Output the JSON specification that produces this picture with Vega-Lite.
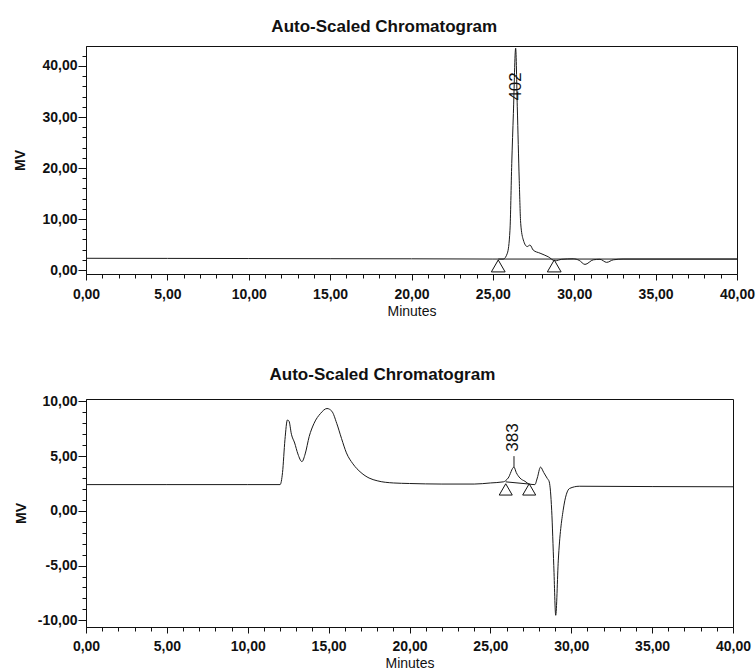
{
  "$schema": "https://vega.github.io/schema/vega-lite/v6.json",
  "padding": {"left": 13, "top": 17, "right": 0, "bottom": 0},
  "spacing": 46,
  "config": {
    "font": "Liberation Sans",
    "view": {"stroke": "#111", "strokeWidth": 1},
    "axis": {"grid": false, "labelOverlap": false, "tickCount": 200, "domainColor": "#111", "tickColor": "#111", "labelColor": "#111", "titleColor": "#111", "labelFont": "Liberation Sans", "titleFont": "Liberation Sans"},
    "title": {"font": "Liberation Sans", "fontSize": 17, "fontWeight": "bold", "color": "#111", "frame": "bounds", "anchor": "middle", "offset": 10}
  },
  "datasets": {
    "topTrace": [
      {"t": 0, "mv": 2.3}, {"t": 5, "mv": 2.28}, {"t": 10, "mv": 2.25}, {"t": 15, "mv": 2.22}, {"t": 20, "mv": 2.2},
      {"t": 25, "mv": 2.15}, {"t": 25.64, "mv": 2.15}, {"t": 25.89, "mv": 3.3}, {"t": 26.05, "mv": 7.8},
      {"t": 26.16, "mv": 20.9}, {"t": 26.26, "mv": 30.7}, {"t": 26.4, "mv": 43.5}, {"t": 26.5, "mv": 32},
      {"t": 26.62, "mv": 17.6}, {"t": 26.71, "mv": 9.15}, {"t": 26.87, "mv": 5.9}, {"t": 27.11, "mv": 4.6},
      {"t": 27.28, "mv": 4.9}, {"t": 27.48, "mv": 3.9}, {"t": 27.9, "mv": 3.3}, {"t": 28.4, "mv": 2.6},
      {"t": 28.82, "mv": 1.8}, {"t": 29.23, "mv": 2.1}, {"t": 29.94, "mv": 2.2}, {"t": 30.3, "mv": 1.9},
      {"t": 30.66, "mv": 1.1}, {"t": 31.17, "mv": 2.0}, {"t": 31.58, "mv": 2.1}, {"t": 31.99, "mv": 1.5},
      {"t": 32.4, "mv": 2.0}, {"t": 33.0, "mv": 2.15}, {"t": 40, "mv": 2.15}
    ],
    "topBase": [{"t": 25.33, "mv": 2.15}, {"t": 40, "mv": 2.15}],
    "topMarks": [{"t": 25.33, "mv": 0.8}, {"t": 28.77, "mv": 0.8}],
    "topLabel": [{"t": 26.45, "mv": 36.0, "label": "402"}],
    "botTrace": [
      {"t": 0, "mv": 2.4}, {"t": 5, "mv": 2.4}, {"t": 10, "mv": 2.4}, {"t": 12.0, "mv": 2.4},
      {"t": 12.15, "mv": 3.5}, {"t": 12.3, "mv": 6.5}, {"t": 12.45, "mv": 8.3}, {"t": 12.55, "mv": 8.2},
      {"t": 12.7, "mv": 7.0}, {"t": 12.9, "mv": 6.2}, {"t": 13.1, "mv": 5.2}, {"t": 13.35, "mv": 4.5},
      {"t": 13.55, "mv": 5.2}, {"t": 13.8, "mv": 6.8}, {"t": 14.1, "mv": 8.0}, {"t": 14.5, "mv": 8.9},
      {"t": 14.9, "mv": 9.35}, {"t": 15.2, "mv": 9.1}, {"t": 15.5, "mv": 8.0}, {"t": 15.8, "mv": 6.6},
      {"t": 16.1, "mv": 5.3}, {"t": 16.5, "mv": 4.3}, {"t": 17.0, "mv": 3.5}, {"t": 17.5, "mv": 3.0},
      {"t": 18.0, "mv": 2.75}, {"t": 19.0, "mv": 2.55}, {"t": 20.0, "mv": 2.5}, {"t": 22.0, "mv": 2.45},
      {"t": 24.0, "mv": 2.45}, {"t": 25.0, "mv": 2.55}, {"t": 25.8, "mv": 2.65}, {"t": 26.1, "mv": 3.0},
      {"t": 26.46, "mv": 4.0}, {"t": 26.6, "mv": 3.5}, {"t": 26.83, "mv": 3.0}, {"t": 27.14, "mv": 2.7},
      {"t": 27.4, "mv": 2.45}, {"t": 27.75, "mv": 2.4}, {"t": 27.9, "mv": 3.0}, {"t": 28.1, "mv": 4.0},
      {"t": 28.3, "mv": 3.5}, {"t": 28.52, "mv": 2.96}, {"t": 28.64, "mv": 2.65}, {"t": 28.79, "mv": 0.06},
      {"t": 28.92, "mv": -5.0}, {"t": 29.04, "mv": -9.54}, {"t": 29.2, "mv": -4.5}, {"t": 29.5, "mv": 0.06},
      {"t": 29.9, "mv": 2.05}, {"t": 30.5, "mv": 2.25}, {"t": 35, "mv": 2.22}, {"t": 40, "mv": 2.2}
    ],
    "botBase": [{"t": 25.95, "mv": 2.65}, {"t": 27.4, "mv": 2.45}],
    "botMarks": [{"t": 25.95, "mv": 1.96}, {"t": 27.4, "mv": 1.96}],
    "botLabel": [{"t": 26.42, "mv": 6.7, "label": "383"}],
    "botRule": [{"t": 26.46, "lo": 4.0, "hi": 5.0}]
  },
  "vconcat": [
    {
      "title": "Auto-Scaled Chromatogram",
      "width": 651,
      "height": 228,
      "layer": [
        {
          "data": {"name": "topTrace"},
          "mark": {"type": "line", "color": "#1a1a1a", "strokeWidth": 1, "interpolate": "monotone"},
          "encoding": {
            "x": {"field": "t", "type": "quantitative", "scale": {"domain": [0, 40], "nice": false, "zero": false},
              "axis": {"title": "Minutes", "titleFontSize": 14, "titleFontWeight": "normal", "titlePadding": 3, "tickCount": 200,
                "values": [0,1,2,3,4,5,6,7,8,9,10,11,12,13,14,15,16,17,18,19,20,21,22,23,24,25,26,27,28,29,30,31,32,33,34,35,36,37,38,39,40],
                "labelExpr": "datum.value % 5 === 0 ? replace(format(datum.value, '.2f'), '.', ',') : ''",
                "labelFlush": false, "labelOverlap": false, "labelFontSize": 14, "labelFontWeight": "bold", "labelPadding": 7,
                "tickSize": {"condition": {"test": "datum.value % 5 === 0", "value": 6}, "value": 4}}},
            "y": {"field": "mv", "type": "quantitative", "scale": {"domain": [-0.78, 43.92], "nice": false, "zero": false},
              "axis": {"title": "MV", "titleFontSize": 14, "titleFontWeight": "bold", "titlePadding": 14, "tickCount": 200,
                "values": [0,2,4,6,8,10,12,14,16,18,20,22,24,26,28,30,32,34,36,38,40,42],
                "labelExpr": "datum.value % 10 === 0 ? replace(format(datum.value, '.2f'), '.', ',') : ''",
                "labelOverlap": false, "labelFontSize": 14, "labelFontWeight": "bold", "labelPadding": 1,
                "tickSize": {"condition": {"test": "datum.value % 10 === 0", "value": 8}, "value": 4}}}
          }
        },
        {
          "data": {"name": "topBase"},
          "mark": {"type": "line", "color": "#1a1a1a", "strokeWidth": 1},
          "encoding": {"x": {"field": "t", "type": "quantitative"}, "y": {"field": "mv", "type": "quantitative"}}
        },
        {
          "data": {"name": "topMarks"},
          "mark": {"type": "point", "shape": "triangle-up", "filled": true, "fill": "white", "stroke": "#111", "strokeWidth": 1, "size": 190, "opacity": 1},
          "encoding": {"x": {"field": "t", "type": "quantitative"}, "y": {"field": "mv", "type": "quantitative"}}
        },
        {
          "data": {"name": "topLabel"},
          "mark": {"type": "text", "angle": 270, "fontSize": 17, "align": "center", "baseline": "middle", "color": "#111", "font": "Liberation Sans"},
          "encoding": {"x": {"field": "t", "type": "quantitative"}, "y": {"field": "mv", "type": "quantitative"}, "text": {"field": "label"}}
        }
      ]
    },
    {
      "title": "Auto-Scaled Chromatogram",
      "width": 647,
      "height": 228,
      "layer": [
        {
          "data": {"name": "botTrace"},
          "mark": {"type": "line", "color": "#1a1a1a", "strokeWidth": 1, "interpolate": "monotone"},
          "encoding": {
            "x": {"field": "t", "type": "quantitative", "scale": {"domain": [0, 40], "nice": false, "zero": false},
              "axis": {"title": "Minutes", "titleFontSize": 14, "titleFontWeight": "normal", "titlePadding": 3, "tickCount": 200,
                "values": [0,1,2,3,4,5,6,7,8,9,10,11,12,13,14,15,16,17,18,19,20,21,22,23,24,25,26,27,28,29,30,31,32,33,34,35,36,37,38,39,40],
                "labelExpr": "datum.value % 5 === 0 ? replace(format(datum.value, '.2f'), '.', ',') : ''",
                "labelFlush": false, "labelOverlap": false, "labelFontSize": 14, "labelFontWeight": "bold", "labelPadding": 6,
                "tickSize": {"condition": {"test": "datum.value % 5 === 0", "value": 6}, "value": 4}}},
            "y": {"field": "mv", "type": "quantitative", "scale": {"domain": [-10.61, 10.22], "nice": false, "zero": false},
              "axis": {"title": "MV", "titleFontSize": 14, "titleFontWeight": "bold", "titlePadding": 9, "tickCount": 200,
                "values": [-10,-9,-8,-7,-6,-5,-4,-3,-2,-1,0,1,2,3,4,5,6,7,8,9,10],
                "labelExpr": "datum.value % 5 === 0 ? replace(replace(format(datum.value, '.2f'), '.', ','), '\u2212', '-') : ''",
                "labelOverlap": false, "labelFontSize": 14, "labelFontWeight": "bold", "labelPadding": 1,
                "tickSize": {"condition": {"test": "datum.value % 5 === 0", "value": 8}, "value": 4}}}
          }
        },
        {
          "data": {"name": "botBase"},
          "mark": {"type": "line", "color": "#1a1a1a", "strokeWidth": 1},
          "encoding": {"x": {"field": "t", "type": "quantitative"}, "y": {"field": "mv", "type": "quantitative"}}
        },
        {
          "data": {"name": "botRule"},
          "mark": {"type": "rule", "color": "#1a1a1a", "strokeWidth": 1},
          "encoding": {"x": {"field": "t", "type": "quantitative"}, "y": {"field": "lo", "type": "quantitative"}, "y2": {"field": "hi"}}
        },
        {
          "data": {"name": "botMarks"},
          "mark": {"type": "point", "shape": "triangle-up", "filled": true, "fill": "white", "stroke": "#111", "strokeWidth": 1, "size": 170, "opacity": 1},
          "encoding": {"x": {"field": "t", "type": "quantitative"}, "y": {"field": "mv", "type": "quantitative"}}
        },
        {
          "data": {"name": "botLabel"},
          "mark": {"type": "text", "angle": 270, "fontSize": 17, "align": "center", "baseline": "middle", "color": "#111", "font": "Liberation Sans"},
          "encoding": {"x": {"field": "t", "type": "quantitative"}, "y": {"field": "mv", "type": "quantitative"}, "text": {"field": "label"}}
        }
      ]
    }
  ]
}
